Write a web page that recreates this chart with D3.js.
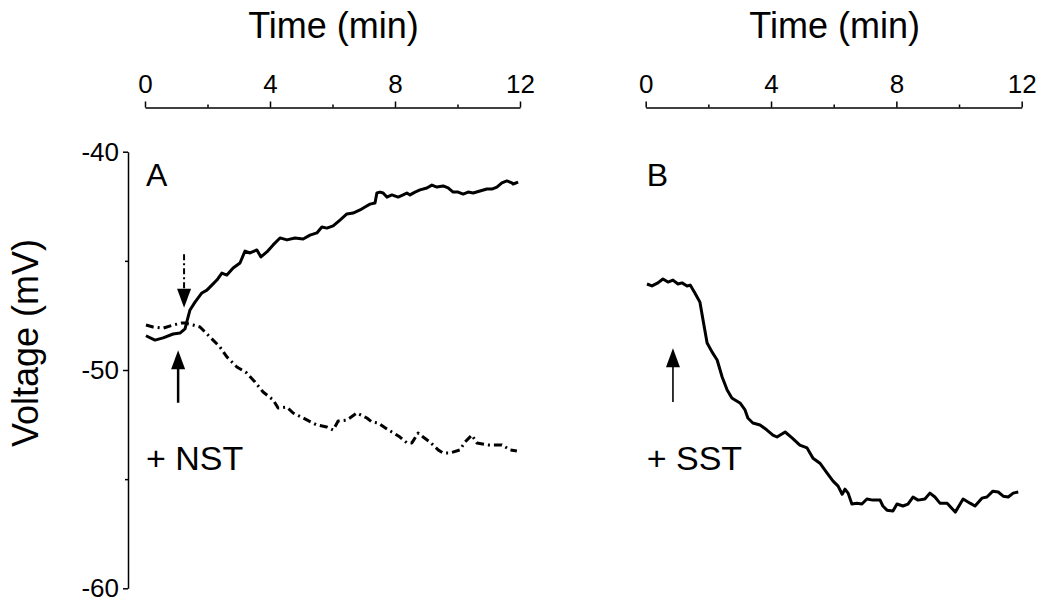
<!DOCTYPE html>
<html>
<head>
<meta charset="utf-8">
<script src="https://cdn.jsdelivr.net/npm/d3@7"></script>
<style>
  body { margin: 0; background: #fff; }
  svg text { font-family: Arial, "Liberation Sans", Helvetica, sans-serif; fill: #000; }
  .axis path, .axis line { stroke: #000; stroke-width: 1.5; }
</style>
</head>
<body>
<div id="viz_container"></div>
<script>
// ---- data (time in min, voltage in mV) ----
var majorTicksX = [0, 4, 8, 12];
var minorTicksX = [2, 6, 10];
var majorTicksY = [-40, -50, -60];
var minorTicksY = [-45, -55];

// panel A, solid trace (depolarising)
var traceA1 = [
    [0.03, -48.43], [0.32, -48.63], [0.58, -48.53], [0.90, -48.35], [1.12, -48.31], [1.28, -48.12],
    [1.38, -47.57], [1.44, -47.25], [1.60, -46.89], [1.82, -46.47], [1.98, -46.34], [2.14, -46.11],
    [2.30, -45.88], [2.46, -45.56], [2.62, -45.65], [2.82, -45.33], [3.04, -45.10], [3.20, -44.55],
    [3.36, -44.64], [3.58, -44.50], [3.71, -44.82], [3.90, -44.59], [4.10, -44.27], [4.32, -43.95],
    [4.54, -44.04], [4.80, -43.95], [5.06, -44.00], [5.28, -43.82], [5.50, -43.72], [5.66, -43.45],
    [5.82, -43.50], [6.02, -43.40], [6.24, -43.13], [6.46, -42.85], [6.66, -42.81], [6.88, -42.67],
    [7.04, -42.53], [7.20, -42.40], [7.36, -42.35], [7.42, -41.89], [7.52, -41.85], [7.62, -41.89],
    [7.74, -42.08], [7.90, -41.98], [8.10, -42.08], [8.26, -41.98], [8.38, -41.89], [8.48, -41.98],
    [8.64, -41.85], [8.80, -41.75], [9.02, -41.66], [9.18, -41.53], [9.34, -41.62], [9.54, -41.57],
    [9.70, -41.66], [9.86, -41.85], [10.02, -41.85], [10.18, -41.94], [10.34, -41.85], [10.50, -41.89],
    [10.72, -41.80], [10.94, -41.71], [11.10, -41.71], [11.26, -41.62], [11.42, -41.43], [11.58, -41.34],
    [11.74, -41.43], [11.78, -41.48], [11.94, -41.39]
];

// panel A, dash-dot trace (hyperpolarising)
var traceA2 = [
    [0.03, -47.94], [0.26, -48.03], [0.58, -48.08], [0.90, -47.94], [1.18, -47.85], [1.28, -47.85],
    [1.54, -47.94], [1.76, -48.03], [2.08, -48.49], [2.40, -48.95], [2.62, -49.40], [2.94, -49.86],
    [3.26, -50.14], [3.52, -50.55], [3.78, -51.01], [4.10, -51.37], [4.26, -51.74], [4.54, -51.70],
    [4.74, -51.97], [5.06, -52.20], [5.50, -52.52], [5.82, -52.61], [6.02, -52.75], [6.18, -52.34],
    [6.46, -52.29], [6.78, -51.97], [7.10, -52.20], [7.26, -52.38], [7.46, -52.43], [7.74, -52.70],
    [7.90, -52.84], [8.16, -53.07], [8.38, -53.34], [8.54, -53.34], [8.74, -52.89], [8.90, -53.07],
    [9.12, -53.30], [9.38, -53.66], [9.54, -53.80], [9.76, -53.80], [10.08, -53.66], [10.24, -53.30],
    [10.46, -52.98], [10.62, -53.34], [10.98, -53.43], [11.42, -53.43], [11.68, -53.66], [11.90, -53.71]
];

// panel B, solid trace
var traceB = [
    [0.04, -46.06], [0.20, -46.15], [0.39, -46.01], [0.55, -45.83], [0.71, -45.97], [0.87, -45.88],
    [1.03, -46.06], [1.16, -46.01], [1.32, -46.15], [1.42, -46.11], [1.57, -46.47], [1.73, -46.89],
    [1.83, -47.71], [1.96, -48.76], [2.12, -49.18], [2.28, -49.54], [2.44, -50.32], [2.60, -50.92],
    [2.75, -51.28], [2.85, -51.37], [3.01, -51.51], [3.17, -51.83], [3.26, -52.20], [3.42, -52.43],
    [3.65, -52.52], [3.87, -52.75], [4.06, -52.98], [4.19, -53.07], [4.45, -52.84], [4.67, -53.11],
    [4.92, -53.44], [5.15, -53.57], [5.34, -54.04], [5.56, -54.27], [5.79, -54.72], [5.98, -55.09],
    [6.14, -55.32], [6.27, -55.69], [6.36, -55.46], [6.46, -55.64], [6.58, -56.14], [6.74, -56.10],
    [6.90, -56.14], [7.06, -55.91], [7.25, -55.96], [7.48, -55.96], [7.57, -56.23], [7.70, -56.42],
    [7.89, -56.46], [8.02, -56.14], [8.21, -56.23], [8.37, -56.14], [8.53, -55.82], [8.69, -55.96],
    [8.91, -55.91], [9.07, -55.64], [9.23, -55.82], [9.39, -56.10], [9.62, -56.10], [9.88, -56.51],
    [10.13, -55.91], [10.35, -56.10], [10.51, -56.23], [10.73, -55.87], [10.89, -55.82], [11.08, -55.55],
    [11.25, -55.59], [11.41, -55.78], [11.57, -55.82], [11.73, -55.64], [11.89, -55.59]
];

// arrows: time, tail voltage, tip voltage
var arrowsA = [
    { t: 1.06, from: -51.5, to: -49.1, dashed: false, w: 2.5 },
    { t: 1.25, from: -44.7, to: -47.15, dashed: true, w: 2 }
];
var arrowsB = [
    { t: 0.87, from: -51.47, to: -49.0, dashed: false, w: 1.6 }
];

var panelLabels = ["A", "B"];
var drugLabels = ["+ NST", "+ SST"];

// ---- layout ----
const W = 1050, H = 612;
const axisTopY = 107.5;
const tickFont = "26px";

const svg = d3.select("#viz_container")
    .append("svg")
    .attr("width", W)
    .attr("height", H);

const yScale = d3.scaleLinear()
    .domain([-40, -60])
    .range([151.7, 588.3]);

const xA = d3.scaleLinear().domain([0, 12]).range([145, 520]);
const xB = d3.scaleLinear().domain([0, 12]).range([645.7, 1021.7]);

// plain hyphen, as in the original figure
const plainFormat = d => String(d);

function drawPanel(xScale, traces, arrows, panelLabel, drugLabel) {
    // top time axis, major ticks with labels
    svg.append("g")
        .attr("class", "axis")
        .attr("transform", `translate(0, ${axisTopY})`)
        .call(d3.axisTop(xScale).tickValues(majorTicksX).tickSizeInner(6).tickSizeOuter(0).tickPadding(9).tickFormat(plainFormat))
        .call(g => g.selectAll("text").style("font-size", tickFont).attr("font-family", null));

    // minor ticks
    svg.append("g")
        .attr("class", "axis")
        .attr("transform", `translate(0, ${axisTopY})`)
        .call(d3.axisTop(xScale).tickValues(minorTicksX).tickSize(3).tickFormat(""))
        .call(g => g.select(".domain").remove());

    // axis title
    svg.append("text")
        .attr("x", (xScale.range()[0] + xScale.range()[1]) / 2 + 1)
        .attr("y", 38)
        .attr("text-anchor", "middle")
        .style("font-size", "36px")
        .text("Time (min)");

    const line = d3.line()
        .x(d => xScale(d[0]))
        .y(d => yScale(d[1]));

    traces.forEach(function (tr) {
        svg.append("path")
            .datum(tr.data)
            .attr("fill", "none")
            .attr("stroke", "#000")
            .attr("stroke-width", 3)
            .attr("stroke-linejoin", "round")
            .attr("stroke-dasharray", tr.dash)
            .attr("d", line);
    });

    // arrows
    arrows.forEach(function (a) {
        const x = xScale(a.t);
        const y0 = yScale(a.from);
        const y1 = yScale(a.to);
        const dir = y1 < y0 ? 1 : -1; // 1 = pointing up
        const headLen = 19, headHalf = 7;
        svg.append("line")
            .attr("x1", x).attr("x2", x)
            .attr("y1", y0).attr("y2", y1 + dir * headLen * 0.8)
            .attr("stroke", "#000")
            .attr("stroke-width", a.w)
            .attr("stroke-dasharray", a.dashed ? "6,3,2,3" : null);
        svg.append("path")
            .attr("d", `M${x},${y1} L${x - headHalf},${y1 + dir * headLen} L${x + headHalf},${y1 + dir * headLen} Z`)
            .attr("fill", "#000");
    });

    // panel label
    svg.append("text")
        .attr("x", xScale(0) + 1)
        .attr("y", yScale(-40) + 34)
        .style("font-size", "32px")
        .text(panelLabel);

    svg.append("text")
        .attr("x", xScale(0) + 1)
        .attr("y", yScale(-50) + 100)
        .style("font-size", "34px")
        .text(drugLabel);
}

drawPanel(xA, [
    { data: traceA1, dash: null },
    { data: traceA2, dash: "8,4,2,4" }
], arrowsA, panelLabels[0], drugLabels[0]);

drawPanel(xB, [
    { data: traceB, dash: null }
], arrowsB, panelLabels[1], drugLabels[1]);

// y axis
svg.append("g")
    .attr("class", "axis")
    .attr("transform", "translate(128, 0)")
    .call(d3.axisLeft(yScale).tickValues(majorTicksY).tickSizeInner(5).tickSizeOuter(0).tickPadding(4).tickFormat(plainFormat))
    .call(g => g.selectAll("text").style("font-size", tickFont).attr("font-family", null));

svg.append("g")
    .attr("class", "axis")
    .attr("transform", "translate(128, 0)")
    .call(d3.axisLeft(yScale).tickValues(minorTicksY).tickSize(3).tickFormat(""))
    .call(g => g.select(".domain").remove());

svg.append("text")
    .attr("transform", "translate(38, 343) rotate(-90)")
    .attr("text-anchor", "middle")
    .style("font-size", "36px")
    .text("Voltage (mV)");
</script>
</body>
</html>
